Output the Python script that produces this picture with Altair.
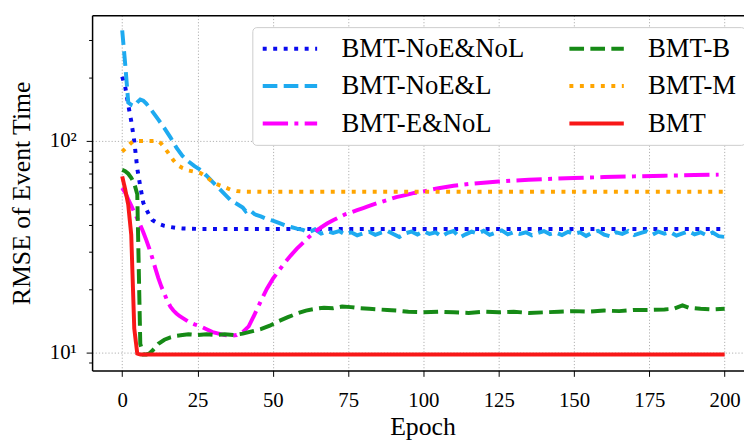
import altair as alt
import pandas as pd

# ---------------- data ----------------
series_order = ["BMT-NoE&NoL", "BMT-NoE&L", "BMT-E&NoL", "BMT-B", "BMT-M", "BMT"]
series_colors = ["#0a0aee", "#1eaaf0", "#ff00ff", "#168a16", "#ffa500", "#f81818"]
series_dashes = [[4, 6.6], [14.8, 6.4], [25.6, 6.4, 4, 6.4], [14.8, 6.4], [4, 6.6], [1, 0]]

noenol_epoch = [0, 1, 2, 3, 4, 5, 6, 7, 8, 9, 10, 12, 14, 16, 18, 20, 25, 50, 100, 150, 200]
noenol_rmse = [201, 180, 148, 124, 100, 74, 61, 51, 47.5, 44.5, 42.3, 40.6, 39.7, 39.2, 38.8, 38.6, 38.4, 38.4, 38.4, 38.4, 38.4]

noel_epoch = [0, 1, 2, 3, 4, 5, 6, 7, 8, 10, 12, 14, 16, 18, 20, 22, 24, 26, 28, 30, 32, 34, 36, 38,
              40, 41, 42, 44, 46, 48, 50, 52, 54, 56, 58,
              60, 62, 64, 66, 68, 70, 72, 74, 76, 78, 80, 82, 84, 86, 88, 90, 92, 94, 96, 98,
              100, 102, 104, 106, 108, 110, 112, 114, 116, 118, 120, 122, 124, 126, 128, 130,
              132, 134, 136, 138, 140, 142, 144, 146, 148, 150, 152, 154, 156, 158, 160, 162,
              164, 166, 168, 170, 172, 174, 176, 178, 180, 182, 184, 186, 188, 190, 192, 194,
              196, 198, 200]
noel_rmse = [333, 230, 152, 148, 146, 152, 157, 155, 150, 138, 126, 115, 104, 93, 85, 80, 76, 73, 68.5, 64, 60, 56, 52.5, 50.5,
             48.5, 46.5, 47.5, 45, 44, 42.8, 42, 41, 40, 39.2, 38.5,
             38.0, 37.0, 38.2, 36.5, 37.4, 36.8, 37.5, 36.2, 37.0, 35.8, 36.6, 37.2, 36.0, 36.9, 37.6, 36.3, 35.2, 36.6, 37.3, 36.1,
             37.4, 36.4, 37.0, 35.4, 36.8, 37.5, 35.0, 36.2, 37.3, 36.5, 37.6, 36.0, 36.9, 37.8, 36.2, 37.1,
             36.4, 37.0, 35.8, 36.7, 37.5, 36.3, 36.9, 35.9, 37.2, 36.4, 37.0, 35.6, 36.8, 37.6, 36.1, 35.4,
             37.0, 36.4, 37.5, 35.9, 36.7, 37.4, 36.0, 37.3, 36.5, 37.1, 35.7, 36.6, 37.4, 36.2, 37.0, 35.8,
             36.9, 35.5, 35.2]

enol_epoch = [0, 1, 2, 3, 4, 5, 6, 7, 8, 9, 10, 11, 12, 13, 14, 15, 16, 17, 18, 19, 20, 22, 24, 26, 28, 30,
              32, 34, 36, 38, 40, 42, 44, 46, 48, 50, 52, 54, 56, 58, 60, 62, 64, 66, 68, 70, 72, 74, 76, 78, 80,
              82, 85, 88, 91, 94, 97, 100, 105, 110, 115, 120, 125, 130, 135, 140, 150, 160, 170, 180, 190, 198]
enol_rmse = [60, 57, 53, 49.5, 46, 43, 40, 37, 34, 31, 28, 25, 22.5, 20.5, 19, 17.5, 16.5, 15.8, 15.3, 14.9, 14.6, 14.0, 13.6, 13.3, 12.9, 12.5,
             12.3, 12.1, 12.0, 12.1, 12.5, 13.3, 15.2, 17.5, 20.0, 22.3, 24.4, 26.6, 28.8, 31.0, 33.0, 35.2, 37.2, 39.0, 40.7, 42.2, 43.6, 45.0, 46.0, 47.1, 48.2,
             49.3, 51.0, 52.6, 54.3, 55.5, 56.8, 57.8, 59.8, 61.4, 62.6, 63.5, 64.3, 65.0, 65.5, 66.0, 66.8, 67.5, 68.0, 68.5, 69.0, 69.3]

b_epoch = [0, 1, 2, 3, 4, 5, 6, 7, 8, 9, 10, 11, 12, 14, 16, 18, 20, 22, 25, 28, 31, 34, 37, 40, 43, 46, 49, 52, 55, 58,
           61, 64, 67, 70, 73, 76, 79, 82, 85, 88, 91, 95, 100, 105, 110, 115, 120, 125, 130, 135, 140, 145, 150,
           155, 160, 165, 170, 175, 180, 183, 186, 188, 192, 196, 200]
b_rmse = [73, 72, 70, 67, 63, 56, 11, 9.8, 9.8, 9.9, 10.2, 10.6, 11.0, 11.5, 11.8, 12.0, 12.1, 12.2, 12.1, 12.2, 12.1, 12.2, 12.1, 12.3, 12.6, 12.9, 13.4, 14.1, 14.7, 15.3,
          15.8, 16.1, 16.3, 16.2, 16.5, 16.4, 16.2, 16.1, 16.0, 15.9, 15.8, 15.6, 15.5, 15.6, 15.5, 15.4, 15.6, 15.5, 15.6, 15.4, 15.5, 15.6, 15.7,
          15.6, 15.8, 15.7, 15.9, 15.9, 16.0, 16.1, 16.7, 16.3, 16.1, 16.0, 16.1]

m_epoch = [0, 1, 2, 3, 4, 6, 8, 10, 12, 13, 14, 15, 16, 17, 18, 19, 20, 22, 24, 26, 28, 30, 32, 34, 36, 38, 40, 50, 100, 150, 200]
m_rmse = [89, 92, 95, 98, 100, 100, 100, 100, 100, 97, 93, 89, 85, 81, 78, 76, 74.5, 72.5, 71.5, 70.5, 67.5, 64, 62, 60.5, 58.8, 58, 57.6, 57.5, 57.5, 57.5, 57.5]

bmt_epoch = [0, 1, 2, 3, 4, 5, 6, 25, 50, 100, 150, 200]
bmt_rmse = [68, 59, 50, 36, 13, 9.9, 9.8, 9.8, 9.8, 9.8, 9.8, 9.8]

x_ticks = [0, 25, 50, 75, 100, 125, 150, 175, 200]
y_ticks = [9, 10, 20, 30, 40, 50, 60, 70, 80, 90, 100, 200, 300]

# drawing order (as in the original figure)
draw = [
    ("BMT-NoE&NoL", noenol_epoch, noenol_rmse),
    ("BMT-NoE&L", noel_epoch, noel_rmse),
    ("BMT-E&NoL", enol_epoch, enol_rmse),
    ("BMT-B", b_epoch, b_rmse),
    ("BMT-M", m_epoch, m_rmse),
    ("BMT", bmt_epoch, bmt_rmse),
]
rows = []
for k, (name, xs, ys) in enumerate(draw):
    for x, y in zip(xs, ys):
        rows.append({"model": name, "epoch": x, "rmse": y, "order": k})
df = pd.DataFrame(rows)

FONT = "Liberation Serif"

legend = alt.Legend(
    title=None, orient="none", legendX=162, legendY=12, columns=2,
    columnPadding=36, rowPadding=10, symbolType="M-1,0H4", symbolSize=484,
    symbolStrokeWidth=4, labelFont=FONT, labelFontSize=27, labelOffset=55,
    labelColor="black", padding=8, strokeColor="#cccccc", fillColor="white",
    cornerRadius=4, labelLimit=400,
)

x_scale = alt.Scale(domain=[-10, 206.42], nice=False, zero=False)
y_scale = alt.Scale(type="log", domain=[8.24, 392.3], nice=False)

major_test = "datum.value == 10 || datum.value == 100"

lines = alt.Chart(df).mark_line(strokeWidth=4, strokeCap="butt").encode(
    x=alt.X("epoch:Q", scale=x_scale, axis=alt.Axis(
        title="Epoch", values=x_ticks, grid=True, gridDash=[1.2, 2], gridColor="#b0b0b0",
        gridWidth=1, tickSize=6, tickColor="black", domainColor="black", domainWidth=1.5,
        labelFont=FONT, labelFontSize=21, labelColor="black", labelPadding=13,
        titleFont=FONT, titleFontSize=26, titleFontWeight="normal", titleColor="black",
        titlePadding=4, titleX=334, labelFlush=False,
    )),
    y=alt.Y("rmse:Q", scale=y_scale, axis=alt.Axis(
        title="RMSE of Event Time", values=y_ticks,
        labelExpr="datum.value == 10 ? '10¹' : datum.value == 100 ? '10²' : ''",
        tickSize={"condition": {"test": major_test, "value": 6}, "value": 3.5},
        gridOpacity={"condition": {"test": major_test, "value": 1}, "value": 0},
        grid=True, gridDash=[1.2, 2], gridColor="#b0b0b0", gridWidth=1,
        tickColor="black", domainColor="black", domainWidth=1.5,
        labelFont=FONT, labelFontSize=21, labelColor="black", labelPadding=10,
        titleFont=FONT, titleFontSize=26, titleFontWeight="normal", titleColor="black",
        titlePadding=15, labelFlush=False,
    )),
    color=alt.Color("model:N", scale=alt.Scale(domain=series_order, range=series_colors), legend=legend),
    strokeDash=alt.StrokeDash("model:N", scale=alt.Scale(domain=series_order, range=series_dashes), legend=legend),
    order=alt.Order("order:Q"),
    detail="order:Q",
)

frame_top = alt.Chart(df).mark_line(opacity=0).encode(
    x=alt.X("epoch:Q", scale=x_scale, axis=alt.Axis(
        orient="top", title=None, labels=False, ticks=False, grid=False,
        domainColor="black", domainWidth=1.5)),
    y=alt.Y("rmse:Q", scale=y_scale, axis=None),
)

chart = alt.layer(lines, frame_top).resolve_axis(x="independent", y="independent").properties(
    width=659, height=359,
    autosize=alt.AutoSizeParams(type="none"),
    padding={"left": 85, "top": 5, "right": 0, "bottom": 68},
).configure_view(stroke=None)

chart.save("out.html", embed_options={"renderer": "svg", "actions": False})
